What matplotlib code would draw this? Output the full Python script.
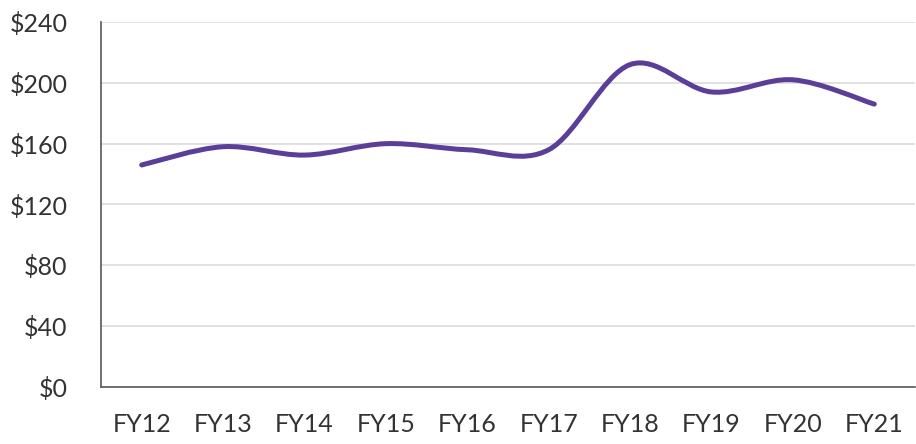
import matplotlib
matplotlib.use("Agg")
import matplotlib.pyplot as plt
import numpy as np
from matplotlib.path import Path
from matplotlib.patches import PathPatch
from matplotlib.ticker import FuncFormatter

years = ["FY12", "FY13", "FY14", "FY15", "FY16", "FY17", "FY18", "FY19", "FY20", "FY21"]
values = [146, 158, 152.5, 160, 156, 156, 212, 194, 202, 186]

line_color = "#5b3e98"

fig = plt.figure(figsize=(9.16, 4.44), dpi=100)
ax = fig.add_axes([101 / 916, 57 / 444, 814 / 916, 365 / 444])

x = np.arange(len(years))
y = np.array(values, dtype=float)

# smoothed line like Excel: cubic bezier, control points from neighbours
verts = [(x[0], y[0])]
codes = [Path.MOVETO]
n = len(x)
for i in range(n - 1):
    p0 = np.array([x[max(i - 1, 0)], y[max(i - 1, 0)]])
    p1 = np.array([x[i], y[i]])
    p2 = np.array([x[i + 1], y[i + 1]])
    p3 = np.array([x[min(i + 2, n - 1)], y[min(i + 2, n - 1)]])
    c1 = p1 + (p2 - p0) / 6
    c2 = p2 - (p3 - p1) / 6
    verts += [tuple(c1), tuple(c2), tuple(p2)]
    codes += [Path.CURVE4] * 3
ax.add_patch(PathPatch(Path(verts, codes), facecolor="none", edgecolor=line_color,
                       lw=3.6, capstyle="round", joinstyle="round", zorder=3))

ax.set_xlim(-0.5, n - 0.5)
ax.set_ylim(0, 240)
ax.set_yticks(np.arange(0, 241, 40))
ax.yaxis.set_major_formatter(FuncFormatter(lambda v, p: f"${v:.0f}"))
ax.set_xticks(x)
ax.set_xticklabels(years)

ax.grid(axis="y", color="#d9d9d9", lw=1.1)
ax.set_axisbelow(True)
for s in ["top", "right"]:
    ax.spines[s].set_visible(False)
for s in ["left", "bottom"]:
    ax.spines[s].set_color("#595959")
    ax.spines[s].set_linewidth(1.2)
ax.tick_params(length=0, labelsize=18, labelcolor="#333333")
ax.tick_params(axis="y", pad=24)
ax.tick_params(axis="x", pad=19)
for lab in ax.get_xticklabels() + ax.get_yticklabels():
    lab.set_family(["Lato", "DejaVu Sans"])

fig.savefig("out.png", dpi=100)
